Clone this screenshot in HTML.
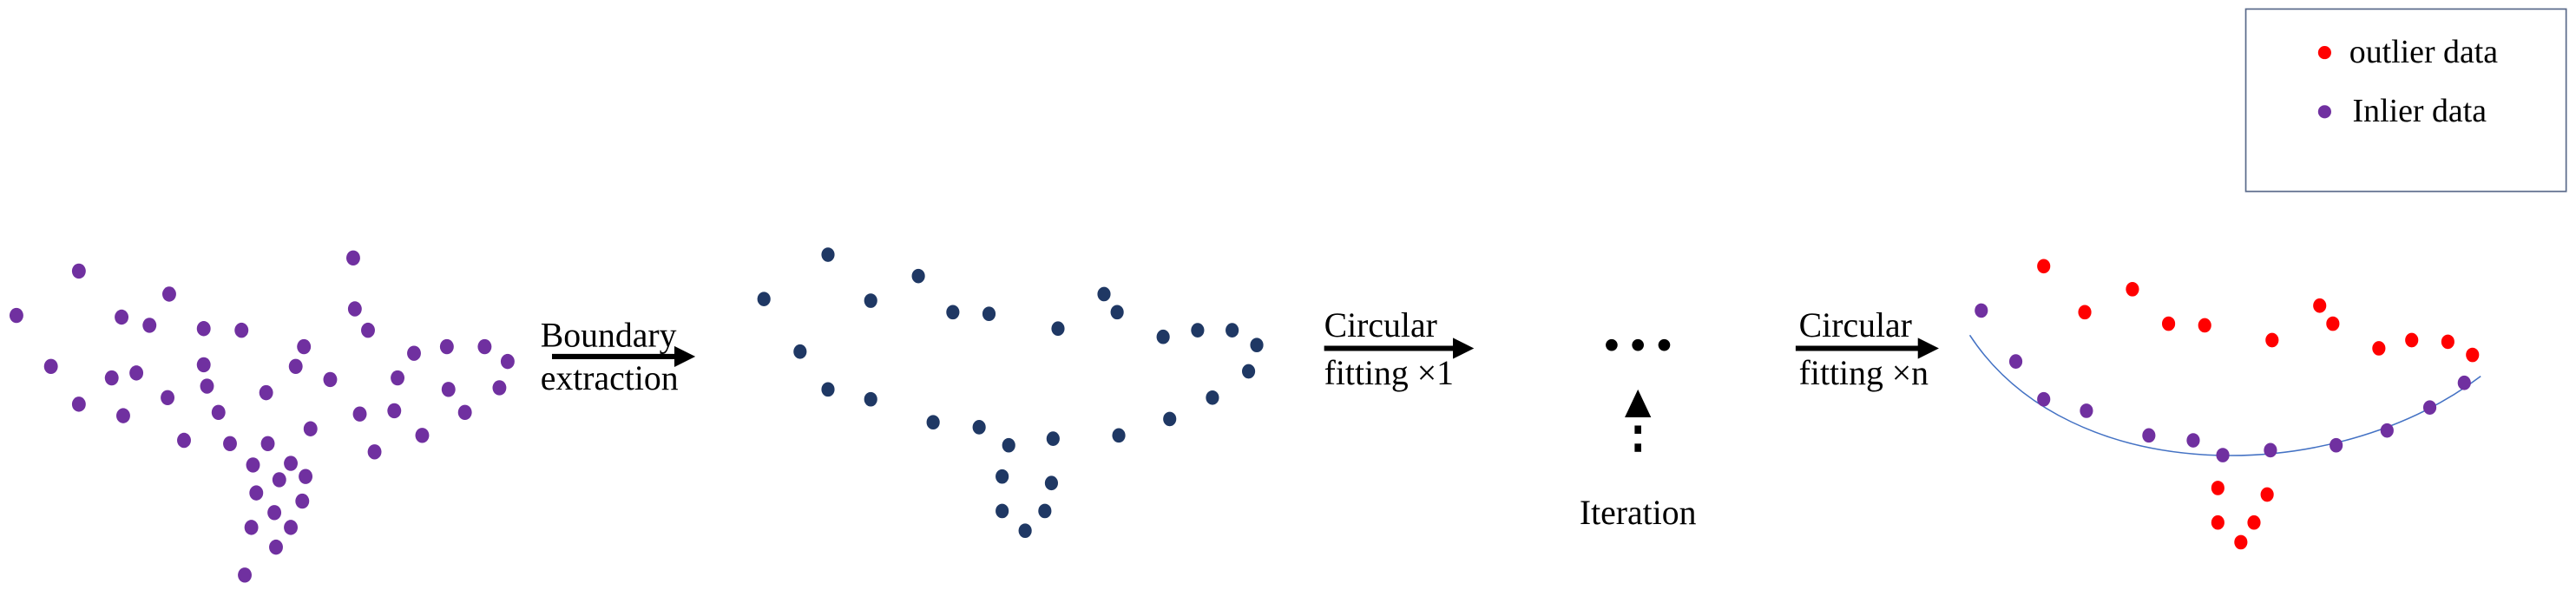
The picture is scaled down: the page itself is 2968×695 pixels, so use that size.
<!DOCTYPE html>
<html><head><meta charset="utf-8"><style>
html,body{margin:0;padding:0;background:#fff;}
svg{display:block;}
text{font-family:"Liberation Serif",serif;fill:#000;}
</style></head><body>
<svg width="2968" height="695" viewBox="0 0 1568 367" preserveAspectRatio="none" xmlns="http://www.w3.org/2000/svg">
<defs>
<marker id="ah" markerWidth="4" markerHeight="4" refX="0.5" refY="2" orient="auto" markerUnits="strokeWidth">
<path d="M0,0 L4,2 L0,4 z" fill="#000"/></marker>
</defs>
<g fill="#7030a0">
<ellipse cx="48" cy="165" rx="4.2" ry="4.6"/><ellipse cx="215" cy="157" rx="4.2" ry="4.6"/><ellipse cx="10" cy="192" rx="4.2" ry="4.6"/><ellipse cx="74" cy="193" rx="4.2" ry="4.6"/><ellipse cx="91" cy="198" rx="4.2" ry="4.6"/><ellipse cx="103" cy="179" rx="4.2" ry="4.6"/><ellipse cx="124" cy="200" rx="4.2" ry="4.6"/><ellipse cx="147" cy="201" rx="4.2" ry="4.6"/><ellipse cx="216" cy="188" rx="4.2" ry="4.6"/><ellipse cx="224" cy="201" rx="4.2" ry="4.6"/><ellipse cx="31" cy="223" rx="4.2" ry="4.6"/><ellipse cx="68" cy="230" rx="4.2" ry="4.6"/><ellipse cx="83" cy="227" rx="4.2" ry="4.6"/><ellipse cx="124" cy="222" rx="4.2" ry="4.6"/><ellipse cx="126" cy="235" rx="4.2" ry="4.6"/><ellipse cx="102" cy="242" rx="4.2" ry="4.6"/><ellipse cx="48" cy="246" rx="4.2" ry="4.6"/><ellipse cx="75" cy="253" rx="4.2" ry="4.6"/><ellipse cx="133" cy="251" rx="4.2" ry="4.6"/><ellipse cx="162" cy="239" rx="4.2" ry="4.6"/><ellipse cx="185" cy="211" rx="4.2" ry="4.6"/><ellipse cx="180" cy="223" rx="4.2" ry="4.6"/><ellipse cx="201" cy="231" rx="4.2" ry="4.6"/><ellipse cx="252" cy="215" rx="4.2" ry="4.6"/><ellipse cx="272" cy="211" rx="4.2" ry="4.6"/><ellipse cx="295" cy="211" rx="4.2" ry="4.6"/><ellipse cx="309" cy="220" rx="4.2" ry="4.6"/><ellipse cx="242" cy="230" rx="4.2" ry="4.6"/><ellipse cx="240" cy="250" rx="4.2" ry="4.6"/><ellipse cx="273" cy="237" rx="4.2" ry="4.6"/><ellipse cx="304" cy="236" rx="4.2" ry="4.6"/><ellipse cx="257" cy="265" rx="4.2" ry="4.6"/><ellipse cx="283" cy="251" rx="4.2" ry="4.6"/><ellipse cx="219" cy="252" rx="4.2" ry="4.6"/><ellipse cx="189" cy="261" rx="4.2" ry="4.6"/><ellipse cx="228" cy="275" rx="4.2" ry="4.6"/><ellipse cx="112" cy="268" rx="4.2" ry="4.6"/><ellipse cx="140" cy="270" rx="4.2" ry="4.6"/><ellipse cx="163" cy="270" rx="4.2" ry="4.6"/><ellipse cx="177" cy="282" rx="4.2" ry="4.6"/><ellipse cx="154" cy="283" rx="4.2" ry="4.6"/><ellipse cx="170" cy="292" rx="4.2" ry="4.6"/><ellipse cx="186" cy="290" rx="4.2" ry="4.6"/><ellipse cx="156" cy="300" rx="4.2" ry="4.6"/><ellipse cx="184" cy="305" rx="4.2" ry="4.6"/><ellipse cx="167" cy="312" rx="4.2" ry="4.6"/><ellipse cx="153" cy="321" rx="4.2" ry="4.6"/><ellipse cx="177" cy="321" rx="4.2" ry="4.6"/><ellipse cx="168" cy="333" rx="4.2" ry="4.6"/><ellipse cx="149" cy="350" rx="4.2" ry="4.6"/>
</g>
<g fill="#1f3864">
<ellipse cx="504" cy="155" rx="4" ry="4.4"/><ellipse cx="465" cy="182" rx="4" ry="4.4"/><ellipse cx="530" cy="183" rx="4" ry="4.4"/><ellipse cx="559" cy="168" rx="4" ry="4.4"/><ellipse cx="580" cy="190" rx="4" ry="4.4"/><ellipse cx="602" cy="191" rx="4" ry="4.4"/><ellipse cx="672" cy="179" rx="4" ry="4.4"/><ellipse cx="680" cy="190" rx="4" ry="4.4"/><ellipse cx="644" cy="200" rx="4" ry="4.4"/><ellipse cx="708" cy="205" rx="4" ry="4.4"/><ellipse cx="729" cy="201" rx="4" ry="4.4"/><ellipse cx="750" cy="201" rx="4" ry="4.4"/><ellipse cx="765" cy="210" rx="4" ry="4.4"/><ellipse cx="487" cy="214" rx="4" ry="4.4"/><ellipse cx="760" cy="226" rx="4" ry="4.4"/><ellipse cx="504" cy="237" rx="4" ry="4.4"/><ellipse cx="530" cy="243" rx="4" ry="4.4"/><ellipse cx="738" cy="242" rx="4" ry="4.4"/><ellipse cx="568" cy="257" rx="4" ry="4.4"/><ellipse cx="596" cy="260" rx="4" ry="4.4"/><ellipse cx="614" cy="271" rx="4" ry="4.4"/><ellipse cx="641" cy="267" rx="4" ry="4.4"/><ellipse cx="712" cy="255" rx="4" ry="4.4"/><ellipse cx="681" cy="265" rx="4" ry="4.4"/><ellipse cx="610" cy="290" rx="4" ry="4.4"/><ellipse cx="640" cy="294" rx="4" ry="4.4"/><ellipse cx="610" cy="311" rx="4" ry="4.4"/><ellipse cx="636" cy="311" rx="4" ry="4.4"/><ellipse cx="624" cy="323" rx="4" ry="4.4"/>
</g>
<path d="M1199,204 C1260,297 1420,297 1510,229" fill="none" stroke="#4472c4" stroke-width="0.8"/>
<g fill="#ff0000">
<ellipse cx="1244" cy="162" rx="4" ry="4.4"/><ellipse cx="1298" cy="176" rx="4" ry="4.4"/><ellipse cx="1269" cy="190" rx="4" ry="4.4"/><ellipse cx="1320" cy="197" rx="4" ry="4.4"/><ellipse cx="1342" cy="198" rx="4" ry="4.4"/><ellipse cx="1383" cy="207" rx="4" ry="4.4"/><ellipse cx="1412" cy="186" rx="4" ry="4.4"/><ellipse cx="1420" cy="197" rx="4" ry="4.4"/><ellipse cx="1448" cy="212" rx="4" ry="4.4"/><ellipse cx="1468" cy="207" rx="4" ry="4.4"/><ellipse cx="1490" cy="208" rx="4" ry="4.4"/><ellipse cx="1505" cy="216" rx="4" ry="4.4"/><ellipse cx="1350" cy="297" rx="4" ry="4.4"/><ellipse cx="1380" cy="301" rx="4" ry="4.4"/><ellipse cx="1350" cy="318" rx="4" ry="4.4"/><ellipse cx="1372" cy="318" rx="4" ry="4.4"/><ellipse cx="1364" cy="330" rx="4" ry="4.4"/>
</g>
<g fill="#7030a0">
<ellipse cx="1206" cy="189" rx="4" ry="4.4"/><ellipse cx="1227" cy="220" rx="4" ry="4.4"/><ellipse cx="1244" cy="243" rx="4" ry="4.4"/><ellipse cx="1270" cy="250" rx="4" ry="4.4"/><ellipse cx="1308" cy="265" rx="4" ry="4.4"/><ellipse cx="1335" cy="268" rx="4" ry="4.4"/><ellipse cx="1353" cy="277" rx="4" ry="4.4"/><ellipse cx="1382" cy="274" rx="4" ry="4.4"/><ellipse cx="1422" cy="271" rx="4" ry="4.4"/><ellipse cx="1453" cy="262" rx="4" ry="4.4"/><ellipse cx="1479" cy="248" rx="4" ry="4.4"/><ellipse cx="1500" cy="233" rx="4" ry="4.4"/>
</g>
<!-- arrows -->
<line x1="336" y1="217" x2="412" y2="217" stroke="#000" stroke-width="3.2" marker-end="url(#ah)"/>
<line x1="806" y1="212" x2="886" y2="212" stroke="#000" stroke-width="3.2" marker-end="url(#ah)"/>
<line x1="1093" y1="212" x2="1169" y2="212" stroke="#000" stroke-width="3.2" marker-end="url(#ah)"/>
<text x="329" y="211" font-size="21">Boundary</text>
<text x="329" y="237" font-size="21">extraction</text>
<text x="806" y="205" font-size="21">Circular</text>
<text x="806" y="234" font-size="21">fitting ×1</text>
<text x="1095" y="205" font-size="21">Circular</text>
<text x="1095" y="234" font-size="21">fitting ×n</text>
<circle cx="981" cy="210" r="3.6" fill="#000"/><circle cx="997" cy="210" r="3.6" fill="#000"/><circle cx="1013" cy="210" r="3.6" fill="#000"/>
<rect x="995" y="270" width="4" height="5" fill="#000"/><rect x="995" y="259" width="4" height="5" fill="#000"/>
<path d="M989,254 L997,237 L1005,254 z" fill="#000"/>
<text x="997" y="319" font-size="21" text-anchor="middle">Iteration</text>
<!-- legend -->
<rect x="1367" y="5.5" width="195" height="111" fill="#fff" stroke="#5a6a8a" stroke-width="0.9"/>
<circle cx="1415" cy="32" r="4" fill="#ff0000"/>
<text x="1430" y="38" font-size="20">outlier data</text>
<circle cx="1415" cy="68" r="4" fill="#7030a0"/>
<text x="1432" y="74" font-size="20">Inlier data</text>
</svg>
</body></html>
